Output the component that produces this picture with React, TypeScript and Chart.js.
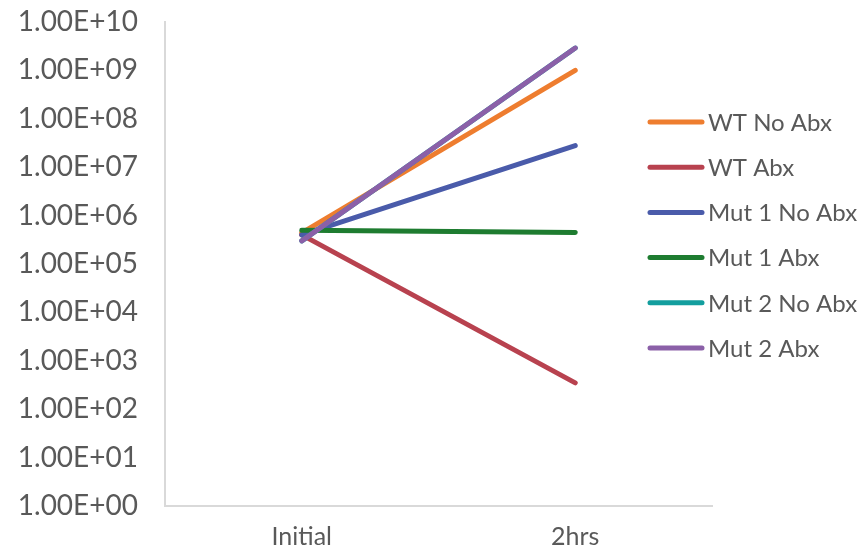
import React, { useEffect, useRef } from "react";
import { Chart, registerables } from "chart.js";

Chart.register(...registerables);

const categories = ["Initial", "2hrs"];
const seriesNames = ["WT No Abx", "WT Abx", "Mut 1 No Abx", "Mut 1 Abx", "Mut 2 No Abx", "Mut 2 Abx"];
const wtNoAbx = [4.4e5, 1.0e9];
const wtAbx = [4.0e5, 3.5e2];
const mut1NoAbx = [4.0e5, 2.8e7];
const mut1Abx = [5.0e5, 4.5e5];
const mut2NoAbx = [3.0e5, 2.9e9];
const mut2Abx = [3.0e5, 2.9e9];
const seriesColors = ["#EE7D2F", "#B8424F", "#4A5BAA", "#1E7C30", "#139E9E", "#8B60A8"];
const yTickValues = [1, 1e1, 1e2, 1e3, 1e4, 1e5, 1e6, 1e7, 1e8, 1e9, 1e10];

const FONT = "Lato, 'Noto Sans', sans-serif";

const legendPlugin = {
  id: "sideLegend",
  afterDraw(chart: any) {
    const ctx = chart.ctx;
    const x0 = 648;
    const lineLen = 56;
    const startY = 122;
    const step = 45.2;
    ctx.save();
    chart.data.datasets.forEach((ds: any, i: number) => {
      const y = startY + i * step;
      ctx.strokeStyle = ds.borderColor;
      ctx.lineWidth = 5;
      ctx.lineCap = "round";
      ctx.beginPath();
      ctx.moveTo(x0 + 2, y);
      ctx.lineTo(x0 + lineLen - 2, y);
      ctx.stroke();
      ctx.fillStyle = "#595959";
      ctx.font = `24px ${FONT}`;
      ctx.textBaseline = "middle";
      ctx.textAlign = "left";
      ctx.fillText(ds.label, x0 + lineLen + 4, y + 1);
    });
    ctx.restore();
  },
};

export default function App() {
  const ref = useRef<HTMLCanvasElement | null>(null);
  useEffect(() => {
    if (!ref.current) return;
    const values = [wtNoAbx, wtAbx, mut1NoAbx, mut1Abx, mut2NoAbx, mut2Abx];
    const n = seriesNames.length;
    const chart = new Chart(ref.current, {
      type: "line",
      data: {
        labels: categories,
        datasets: seriesNames.map((name, i) => ({
          label: name,
          data: values[i],
          borderColor: seriesColors[i],
          backgroundColor: seriesColors[i],
          borderWidth: 5,
          pointRadius: 0,
          borderCapStyle: "round" as const,
          tension: 0,
          order: n - i,
        })),
      },
      options: {
        animation: false,
        responsive: false,
        maintainAspectRatio: false,
        layout: { padding: { top: 22, right: 150, bottom: 0, left: 0 } },
        plugins: {
          legend: { display: false },
          tooltip: { enabled: false },
        },
        scales: {
          x: {
            offset: true,
            grid: { display: false, drawTicks: false },
            border: { display: true, color: "#D9D9D9", width: 2 },
            ticks: { color: "#595959", font: { family: FONT, size: 25 }, padding: 16 },
            afterFit(scale: any) {
              scale.height = 45;
            },
          },
          y: {
            type: "logarithmic",
            min: 1,
            max: 1e10,
            grid: { display: false, drawTicks: false },
            border: { display: true, color: "#D9D9D9", width: 2 },
            ticks: {
              color: "#595959",
              font: { family: FONT, size: 28 },
              padding: 27,
              callback: (v: any) => {
                const e = Math.round(Math.log10(Number(v)));
                return "1.00E+" + String(e).padStart(2, "0");
              },
            },
            afterBuildTicks(scale: any) {
              scale.ticks = yTickValues.map((v) => ({ value: v }));
            },
            afterFit(scale: any) {
              scale.width = 165;
              scale.paddingTop = 0;
              scale.paddingBottom = 0;
            },
          },
        },
      },
      plugins: [legendPlugin],
    });
    return () => chart.destroy();
  }, []);
  return (
    <div style={{ position: "fixed", left: 0, top: 0, width: 862, height: 551, background: "#fff" }}>
      <canvas ref={ref} width={862} height={551} style={{ display: "block" }} />
    </div>
  );
}
